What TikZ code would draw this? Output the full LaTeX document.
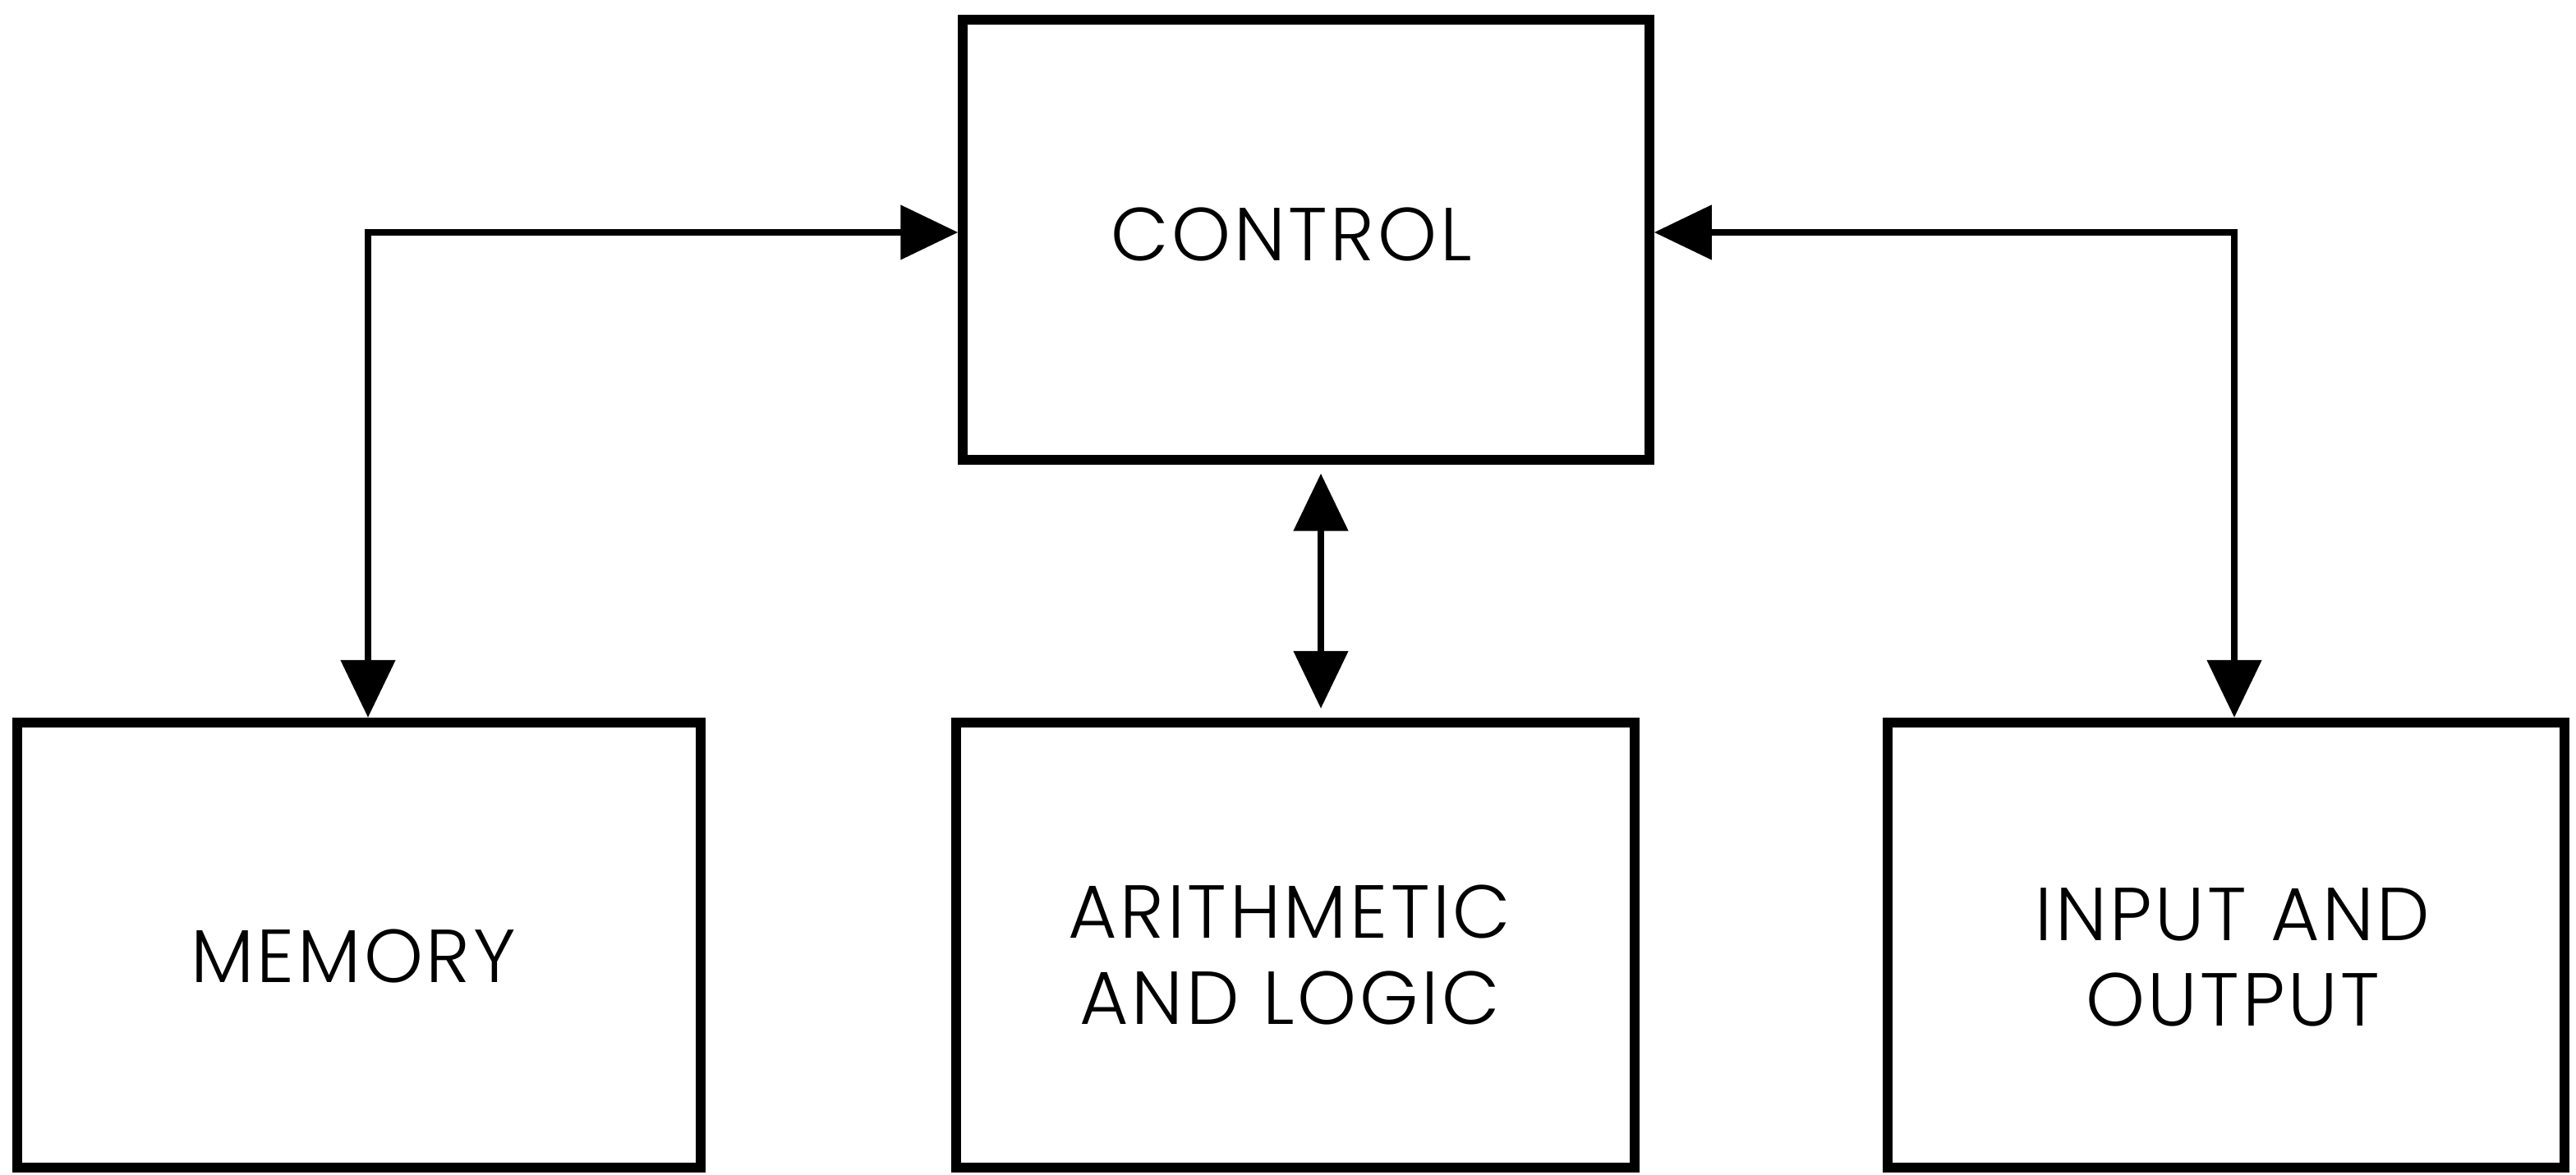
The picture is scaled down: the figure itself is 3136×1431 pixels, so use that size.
\documentclass[tikz,border=0pt]{standalone}
\usepackage{fontspec}
\setmainfont{Poppins}[UprightFont=* Light,LetterSpace=4]
\usetikzlibrary{arrows.meta}
\begin{document}
\begin{tikzpicture}[x=0.01cm,y=-0.01cm,
  box/.style={draw=black,line width=3.4pt,rectangle,inner sep=0pt},
  lbl/.style={inner sep=0pt,font=\fontsize{26pt}{29.6pt}\selectfont,align=center,text=black},
  conn/.style={line width=2.3pt,draw=black,
    {Triangle[length=0.7cm,width=0.65cm]}-{Triangle[length=0.7cm,width=0.65cm]}}]
\useasboundingbox (0,0) rectangle (3136,1431);
\fill[white] (0,0) rectangle (3136,1431);
\node[box,minimum width=8.35cm,minimum height=5.35cm] (ctrl) at (1590,292) {};
\node[box,minimum width=8.32cm,minimum height=5.42cm] (mem) at (437,1151) {};
\node[box,minimum width=8.26cm,minimum height=5.42cm] (alu) at (1577,1151) {};
\node[box,minimum width=8.24cm,minimum height=5.42cm] (io) at (2710,1151) {};
\node[lbl] (ctrlt) at (1572,286) {CONTROL};
\node[lbl] (memt) at (430,1164) {MEMORY};
\node[lbl] (alut) at (1570,1163) {ARITHMETIC\\AND LOGIC};
\node[lbl] (iot) at (2718,1166) {INPUT AND\\OUTPUT};
\coordinate (lc) at (448,283);
\coordinate (rc) at (2720,283);
\coordinate (mc) at (1608,700);
\draw[conn] (mem.north -| lc) -- (lc) -- (ctrl.west |- lc);
\draw[conn] (ctrl.east |- rc) -- (rc) -- (io.north -| rc);
\draw[conn,shorten <=0.11cm,shorten >=0.11cm] (ctrl.south -| mc) -- (alu.north -| mc);
\end{tikzpicture}
\end{document}
